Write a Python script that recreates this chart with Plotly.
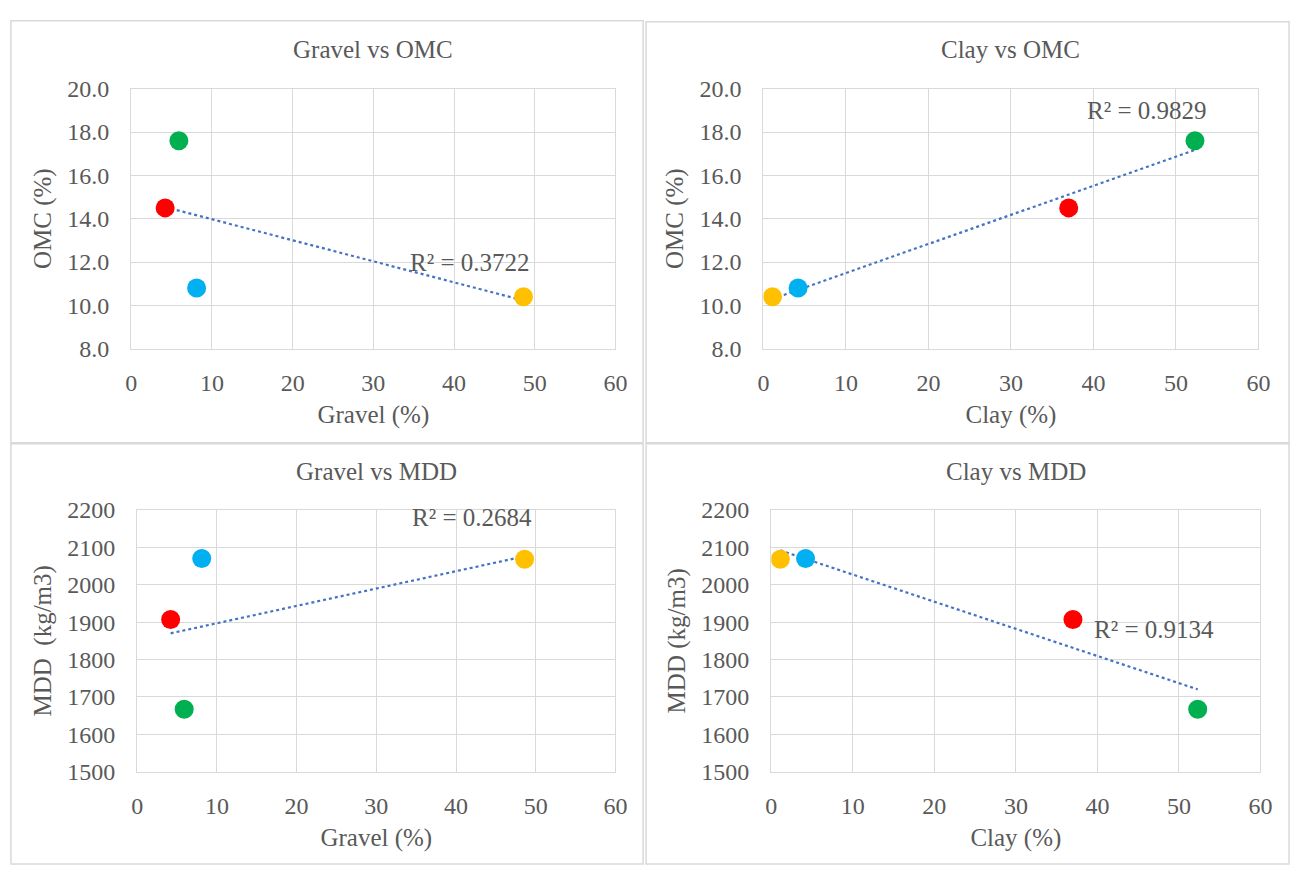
import numpy as np
import plotly.graph_objects as go

# Data (four soil samples)
sample_colors = ["#FF0000", "#00B050", "#00B0F0", "#FFC000"]
gravel = [4.2, 5.9, 8.1, 48.6]
clay = [37.0, 52.3, 4.2, 1.1]
omc = [14.5, 17.6, 10.8, 10.4]
mdd = [1907, 1667, 2070, 2068]

r2_labels = ["R² = 0.3722", "R² = 0.9829", "R² = 0.2684", "R² = 0.9134"]
r2_pos = [(42.0, 12.0), (46.5, 19.0), (42.0, 2180), (47.0, 1880)]

panels = [
    dict(title="Gravel vs OMC", x=gravel, y=omc, xt="Gravel (%)", yt="OMC (%)",
         xd=[127/1306, 618/1306], yd=[1-346/877, 1-78/877], yr=[8, 20], dt=2, fmt=".1f"),
    dict(title="Clay vs OMC", x=clay, y=omc, xt="Clay (%)", yt="OMC (%)",
         xd=[768/1306, 1270/1306], yd=[1-346/877, 1-78/877], yr=[8, 20], dt=2, fmt=".1f"),
    dict(title="Gravel vs MDD", x=gravel, y=mdd, xt="Gravel (%)", yt="MDD  (kg/m3)",
         xd=[133/1306, 618/1306], yd=[1-782/877, 1-512/877], yr=[1500, 2200], dt=100, fmt="d"),
    dict(title="Clay vs MDD", x=clay, y=mdd, xt="Clay (%)", yt="MDD (kg/m3)",
         xd=[776/1306, 1272/1306], yd=[1-782/877, 1-512/877], yr=[1500, 2200], dt=100, fmt="d"),
]

FONT = "Liberation Serif, Times New Roman, serif"
GREY = "#595959"
GRID = "#D9D9D9"
TICK_SIZE = 24
TITLE_SIZE = 25

fig = go.Figure()
annotations = []
shapes = []
axes = {}

for i, p in enumerate(panels):
    n = "" if i == 0 else str(i + 1)
    xa, ya = "x" + n, "y" + n
    xs = np.array(p["x"], dtype=float)
    ys = np.array(p["y"], dtype=float)
    k, b = np.polyfit(xs, ys, 1)
    tx = np.array([xs.min(), xs.max()])
    fig.add_trace(go.Scatter(x=tx, y=k * tx + b, mode="lines", xaxis=xa, yaxis=ya,
                             line=dict(color="#4472C4", width=2.2, dash="dot"),
                             showlegend=False, hoverinfo="skip"))
    fig.add_trace(go.Scatter(x=p["x"], y=p["y"], mode="markers", xaxis=xa, yaxis=ya,
                             marker=dict(color=sample_colors, size=19, line=dict(width=0)),
                             showlegend=False))
    common = dict(showgrid=True, gridcolor=GRID, gridwidth=1.3, showline=True,
                  linecolor=GRID, linewidth=1.3, mirror=True, zeroline=False, ticks="",
                  tickfont=dict(family=FONT, size=TICK_SIZE, color=GREY))
    axes["xaxis" + n] = dict(common, domain=p["xd"], range=[0, 60], dtick=10,
                             anchor=ya, ticklabelstandoff=12,
                             title=dict(text=p["xt"], standoff=10,
                                        font=dict(family=FONT, size=TITLE_SIZE, color=GREY)))
    axes["yaxis" + n] = dict(common, domain=p["yd"], range=p["yr"], dtick=p["dt"],
                             tickformat=p["fmt"], anchor=xa, ticklabelstandoff=16,
                             title=dict(text=p["yt"], standoff=8,
                                        font=dict(family=FONT, size=TITLE_SIZE, color=GREY)))
    annotations.append(dict(text=p["title"], xref="paper", yref="paper",
                            x=(p["xd"][0] + p["xd"][1]) / 2, y=p["yd"][1] + 40/877,
                            xanchor="center", yanchor="middle", showarrow=False,
                            font=dict(family=FONT, size=TITLE_SIZE, color=GREY)))
    annotations.append(dict(text=r2_labels[i], xref=xa, yref=ya, x=r2_pos[i][0], y=r2_pos[i][1],
                            xanchor="center", yanchor="middle", showarrow=False,
                            font=dict(family=FONT, size=TITLE_SIZE, color=GREY)))

# Chart-area frames
for (x0, y0, x1, y1) in [(5, 8, 646, 443), (649, 9, 1301, 443), (5, 444, 646, 877), (649, 444, 1301, 877)]:
    shapes.append(dict(type="rect", xref="paper", yref="paper", x0=x0/1306, x1=x1/1306,
                       y0=1-y1/877, y1=1-y0/877, line=dict(color=GRID, width=1.5)))

fig.update_layout(width=1306, height=877, margin=dict(l=0, r=0, t=0, b=0),
                  font=dict(family=FONT, color=GREY, size=TICK_SIZE),
                  paper_bgcolor="white", plot_bgcolor="white",
                  annotations=annotations, shapes=shapes, **axes)

fig.write_html("out.html")
